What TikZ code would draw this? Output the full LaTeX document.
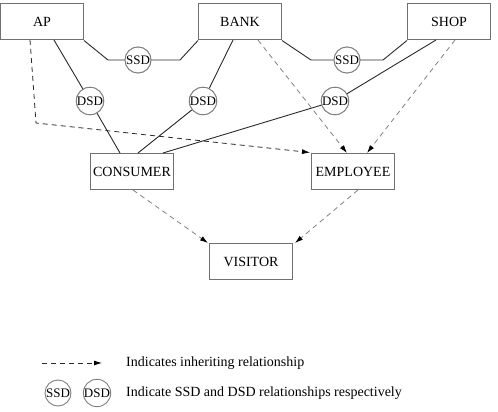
\documentclass[tikz,border=0pt]{standalone}
\usepackage{fontspec}
\setmainfont{Liberation Serif}
\usetikzlibrary{arrows.meta}
\definecolor{boxgray}{HTML}{707070}
\definecolor{dashgray}{HTML}{808080}
\definecolor{linedark}{HTML}{2A2A2A}
\begin{document}
\begin{tikzpicture}[x=1pt,y=-1pt,
  ent/.style={draw=boxgray,line width=1pt,minimum width=83pt,minimum height=36pt,inner sep=0pt,font=\fontsize{14}{16}\selectfont},
  rel/.style={circle,draw=dashgray,line width=0.9pt,fill=white,minimum size=26pt,inner sep=0pt,font=\fontsize{13}{15}\selectfont},
  solidln/.style={draw=linedark,line width=0.9pt},
  inh/.style={draw=dashgray,line width=0.8pt,dash pattern=on 5pt off 4pt,-{Latex[length=8pt,width=5pt,fill=black,color=black]}},
  inhdark/.style={inh,draw=linedark},
  legtext/.style={anchor=west,inner sep=0pt,font=\fontsize{14}{16}\selectfont}]
\useasboundingbox (0,0) rectangle (498,412);
% entities
\node[ent] (ap) at (42,22) {AP};
\node[ent] (bank) at (240,22) {BANK};
\node[ent] (shop) at (449,22) {SHOP};
\node[ent] (consumer) at (132,171.5) {CONSUMER};
\node[ent] (employee) at (353,171.5) {EMPLOYEE};
\node[ent] (visitor) at (251,261.5) {VISITOR};
% relation circles
\node[rel] (ssda) at (138,60) {SSD};
\node[rel] (ssdb) at (347,60) {SSD};
\node[rel] (dsda) at (90,101) {DSD};
\node[rel] (dsdb) at (203,101) {DSD};
\node[rel] (dsdc) at (335,101) {DSD};
% helper coordinates
\coordinate (sa1) at (108,60);
\coordinate (sa2) at (180,60);
\coordinate (sb1) at (311,60);
\coordinate (sb2) at (383,60);
\coordinate (apd) at (54,40);
\coordinate (bankd) at (233,40);
\coordinate (shopd) at (436,40);
\coordinate (cona) at (120,153);
\coordinate (conb) at (138,153);
\coordinate (conc) at (163,153);
\coordinate (apx) at (30,40);
\coordinate (apk) at (36,123);
\coordinate (empl) at (310,152.5);
\coordinate (bankx) at (258,40);
\coordinate (shopx) at (455,40);
\coordinate (empa) at (347,153);
\coordinate (empb) at (367,153);
\coordinate (conv) at (133,190);
\coordinate (visa) at (208,243);
\coordinate (empv) at (358,190);
\coordinate (visb) at (295,243);
% solid connectors
\path[solidln] (ap.south east) -- (sa1) -- (ssda.west);
\path[solidln] (ssda.east) -- (sa2) -- (bank.south west);
\path[solidln] (bank.south east) -- (sb1) -- (ssdb.west);
\path[solidln] (ssdb.east) -- (sb2) -- (shop.south west);
\path[solidln] (apd) -- (dsda);
\path[solidln] (dsda) -- (cona);
\path[solidln] (bankd) -- (dsdb);
\path[solidln] (dsdb) -- (conb);
\path[solidln] (shopd) -- (dsdc);
\path[solidln] (dsdc) -- (conc);
% inheritance
\draw[inhdark] (apx) -- (apk) -- (empl);
\draw[inh] (bankx) -- (empa);
\draw[inh] (shopx) -- (empb);
\draw[inh] (conv) -- (visa);
\draw[inh] (empv) -- (visb);
% redraw circles on top
\node[rel] at (ssda) {SSD};
\node[rel] at (ssdb) {SSD};
\node[rel] at (dsda) {DSD};
\node[rel] at (dsdb) {DSD};
\node[rel] at (dsdc) {DSD};
% legend
\coordinate (lga) at (42,363);
\coordinate (lgb) at (102,363);
\draw[inhdark] (lga) -- (lgb);
\node[legtext] (lt1) at (126,363) {Indicates inheriting relationship};
\node[rel] (lssd) at (58,393) {SSD};
\node[rel] (ldsd) at (97,393) {DSD};
\node[legtext] (lt2) at (126,393) {Indicate SSD and DSD relationships respectively};
\end{tikzpicture}
\end{document}
